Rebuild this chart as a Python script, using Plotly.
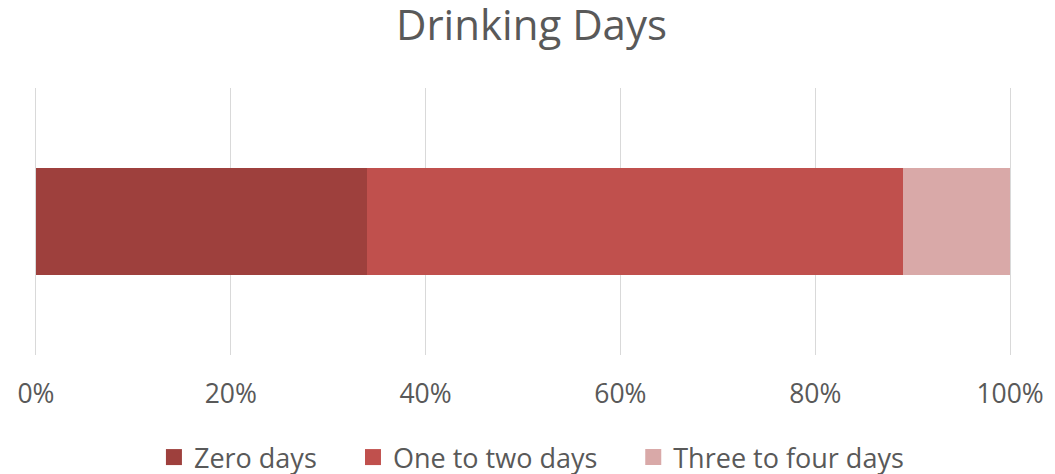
import plotly.graph_objects as go

categories = ["Drinking Days"]
series_names = ["Zero days", "One to two days", "Three to four days"]
series_values = [[34], [55], [11]]
series_colors = ["#9E403D", "#C0504D", "#D9A9A8"]
tick_vals = [0, 20, 40, 60, 80, 100]
tick_text = ["0%", "20%", "40%", "60%", "80%", "100%"]

# page is offset by the default 8px body margin; figure sized to fill the window
FIG_W, FIG_H = 1047, 466
legend_ids = ["legend", "legend2", "legend3"]
legend_x = [0.1234, 0.3265, 0.6125]  # paper x of each legend entry

fig = go.Figure()
for name, vals, col, lid in zip(series_names, series_values, series_colors, legend_ids):
    fig.add_trace(go.Bar(
        name=name, y=categories, x=vals, orientation="h",
        marker=dict(color=col, line=dict(width=0)),
        hoverinfo="x+name", legendgroup=name, showlegend=False,
    ))
    fig.add_trace(go.Scatter(
        name=name, x=[None], y=[None], mode="markers",
        marker=dict(symbol="square", size=19, color=col, line=dict(width=0)),
        legendgroup=name, showlegend=True, hoverinfo="skip", legend=lid,
    ))

font_family = "Open Sans, sans-serif"
legend_common = dict(orientation="h", xanchor="left", y=-0.384, yanchor="middle",
                     font=dict(size=27, color="#595959", family=font_family),
                     bgcolor="rgba(0,0,0,0)", borderwidth=0, itemwidth=30)

fig.update_layout(
    barmode="stack",
    bargap=0.6,
    width=FIG_W, height=FIG_H,
    margin=dict(l=25, r=42, t=80, b=119, pad=0, autoexpand=False),
    paper_bgcolor="white", plot_bgcolor="white",
    title=dict(text="Drinking Days", x=0.5, xanchor="center", y=0.962, yanchor="middle",
               font=dict(family=font_family, size=42, color="#595959")),
    font=dict(family=font_family, color="#595959"),
    xaxis=dict(range=[-0.3, 100.3], tickvals=tick_vals, ticktext=tick_text,
               showgrid=True, gridcolor="#D9D9D9", gridwidth=1.3,
               zeroline=False, showline=False, automargin=False,
               tickfont=dict(size=26.5, color="#595959"),
               ticks="", ticklabelstandoff=20, fixedrange=True),
    yaxis=dict(type="category", showticklabels=False, showgrid=False, zeroline=False,
               showline=False, fixedrange=True, automargin=False),
    legend=dict(x=legend_x[0], **legend_common),
    legend2=dict(x=legend_x[1], **legend_common),
    legend3=dict(x=legend_x[2], **legend_common),
    showlegend=True,
)

fig.write_html("out.html")
